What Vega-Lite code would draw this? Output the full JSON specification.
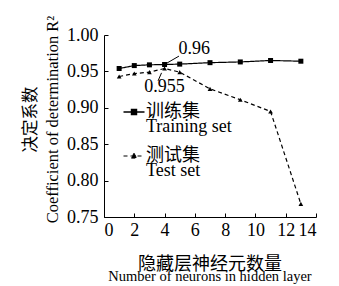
{
  "$schema": "https://vega.github.io/schema/vega-lite/v6.json",
  "width": 212,
  "height": 182,
  "autosize": {"type": "none"},
  "padding": {"left": 104, "top": 35, "right": 23, "bottom": 69},
  "background": "white",
  "config": {
    "view": {"stroke": null},
    "axis": {"labelFont": "Times New Roman, Liberation Serif, serif", "titleFont": "Times New Roman, Liberation Serif, serif, Noto Sans CJK SC"},
    "style": {
      "guide-label": {"font": "Times New Roman, Liberation Serif, serif, Noto Sans CJK SC"},
      "guide-title": {"font": "Times New Roman, Liberation Serif, serif, Noto Sans CJK SC"}
    }
  },
  "datasets": {
    "r2": [
      {"n": 1, "set": "Training", "r2": 0.954},
      {"n": 2, "set": "Training", "r2": 0.958},
      {"n": 3, "set": "Training", "r2": 0.959},
      {"n": 4, "set": "Training", "r2": 0.9595},
      {"n": 5, "set": "Training", "r2": 0.960},
      {"n": 7, "set": "Training", "r2": 0.962},
      {"n": 9, "set": "Training", "r2": 0.963},
      {"n": 11, "set": "Training", "r2": 0.965},
      {"n": 13, "set": "Training", "r2": 0.964},
      {"n": 1, "set": "Test", "r2": 0.943},
      {"n": 2, "set": "Test", "r2": 0.947},
      {"n": 3, "set": "Test", "r2": 0.949},
      {"n": 4, "set": "Test", "r2": 0.954},
      {"n": 5, "set": "Test", "r2": 0.949},
      {"n": 7, "set": "Test", "r2": 0.926},
      {"n": 9, "set": "Test", "r2": 0.911},
      {"n": 11, "set": "Test", "r2": 0.895},
      {"n": 13, "set": "Test", "r2": 0.768}
    ],
    "notes": [
      {"label": "0.96", "x": 4.12, "y": 0.961, "x2": 4.95, "y2": 0.971, "tx": 5.96, "ty": 0.981},
      {"label": "0.955", "x": 3.8, "y": 0.948, "x2": 3.57, "y2": 0.937, "tx": 4.0, "ty": 0.929}
    ]
  },
  "title": {
    "text": "隐藏层神经元数量",
    "subtitle": "Number of neurons in hidden layer",
    "orient": "bottom",
    "anchor": "middle",
    "font": "Liberation Serif, Times New Roman, serif, Noto Sans CJK SC",
    "subtitleFont": "Liberation Serif, Times New Roman, serif, Noto Sans CJK SC",
    "fontSize": 18,
    "subtitleFontSize": 14.5,
    "fontWeight": "normal",
    "color": "black",
    "subtitleColor": "black",
    "offset": 17,
    "subtitlePadding": -4
  },
  "encoding": {
    "x": {
      "type": "quantitative",
      "scale": {"domain": [0, 14], "nice": false, "zero": false},
      "axis": {
        "values": [0, 2, 4, 6, 8, 10, 12, 14],
        "grid": false,
        "domainColor": "black",
        "tickColor": "black",
        "tickSize": -4,
        "labelPadding": 8,
        "labelColor": "black",
        "labelFontSize": 18,
        "labelOverlap": false,
        "labelFont": "Times New Roman, Liberation Serif, serif",
        "title": null
      }
    },
    "y": {
      "type": "quantitative",
      "scale": {"domain": [0.75, 1.0], "nice": false, "zero": false},
      "axis": {
        "values": [0.75, 0.8, 0.85, 0.9, 0.95, 1.0],
        "format": ".2f",
        "grid": false,
        "domainColor": "black",
        "tickColor": "black",
        "tickSize": -4,
        "labelPadding": 10,
        "labelColor": "black",
        "labelFontSize": 18,
        "labelOverlap": false,
        "labelFont": "Times New Roman, Liberation Serif, serif",
        "title": ["决定系数", "Coefficient of determination R²"],
        "titleFont": "Times New Roman, Liberation Serif, serif, Noto Sans CJK SC",
        "titleFontWeight": "normal",
        "titleColor": "black",
        "titleFontSize": 16.5,
        "titleLineHeight": 22,
        "titlePadding": 6,
        "titleY": 84
      }
    }
  },
  "layer": [
    {
      "data": {"name": "r2"},
      "mark": {"type": "line", "color": "black", "strokeWidth": 1.2},
      "encoding": {
        "x": {"field": "n", "type": "quantitative"},
        "y": {"field": "r2", "type": "quantitative"},
        "strokeDash": {
          "field": "set", "type": "nominal",
          "scale": {"domain": ["Training", "Test"], "range": [[1, 0], [4, 3]]},
          "legend": {
            "orient": "none",
            "legendX": 21,
            "legendY": 68,
            "padding": 0,
            "title": null,
            "labelExpr": "datum.label === 'Training' ? ['训练集', 'Training set'] : ['测试集', 'Test set']",
            "labelFont": "Liberation Serif, Times New Roman, serif, Noto Sans CJK SC",
            "labelFontSize": 18,
            "labelColor": "black",
            "symbolSize": 441,
            "symbolFillColor": "black",
            "symbolStrokeColor": "black",
            "symbolStrokeWidth": 1.2,
            "symbolOpacity": 1,
            "labelOffset": 3,
            "rowPadding": 11,
            "encode": {
              "labels": {"update": {"lineHeight": {"value": 15}}},
              "symbols": {
                "update": {
                  "shape": {"signal": "datum.value === 'Training' ? 'M-1,0L1,0M-0.24,-0.24L0.24,-0.24L0.24,0.24L-0.24,0.24Z' : 'M-1,0L1,0M0,-0.26L0.26,0.2L-0.26,0.2Z'"},
                  "fill": {"value": "black"},
                  "fillOpacity": {"value": 1},
                  "stroke": {"value": "black"},
                  "strokeOpacity": {"value": 1},
                  "strokeWidth": {"signal": "datum.value === 'Training' ? 1.4 : 1"},
                  "strokeDash": {"signal": "datum.value === 'Training' ? [1, 0] : [3, 2]"}
                }
              }
            }
          }
        }
      }
    },
    {
      "data": {"name": "r2"},
      "transform": [{"filter": "datum.set === 'Training'"}],
      "mark": {"type": "point", "filled": true, "opacity": 1, "color": "black", "shape": "square", "size": 25},
      "encoding": {
        "x": {"field": "n", "type": "quantitative"},
        "y": {"field": "r2", "type": "quantitative"}
      }
    },
    {
      "data": {"name": "r2"},
      "transform": [{"filter": "datum.set === 'Test'"}],
      "mark": {"type": "point", "filled": true, "opacity": 1, "color": "black", "shape": "triangle-up", "size": 22},
      "encoding": {
        "x": {"field": "n", "type": "quantitative"},
        "y": {"field": "r2", "type": "quantitative"}
      }
    },
    {
      "data": {"name": "notes"},
      "mark": {"type": "rule", "color": "black", "strokeWidth": 1},
      "encoding": {
        "x": {"field": "x", "type": "quantitative"},
        "y": {"field": "y", "type": "quantitative"},
        "x2": {"field": "x2"},
        "y2": {"field": "y2"}
      }
    },
    {
      "data": {"name": "notes"},
      "mark": {"type": "text", "fontSize": 18, "color": "black", "align": "center", "baseline": "middle", "font": "Liberation Serif, Times New Roman, serif"},
      "encoding": {
        "x": {"field": "tx", "type": "quantitative"},
        "y": {"field": "ty", "type": "quantitative"},
        "text": {"field": "label"}
      }
    }
  ]
}
